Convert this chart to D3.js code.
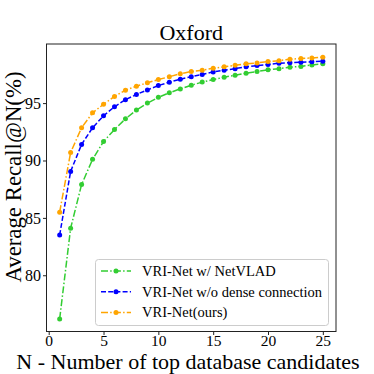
<!DOCTYPE html>
<html><head><meta charset="utf-8">
<script src="https://cdn.jsdelivr.net/npm/d3@7"></script>
<style>body{margin:0;background:#fff}svg{display:block}</style>
</head><body>
<svg id="c" width="374" height="374"></svg>
<script>
const title = "Oxford";
const xLabel = "N - Number of top database candidates";
const yLabel = "Average Recall@N(%)";
const N = [1,2,3,4,5,6,7,8,9,10,11,12,13,14,15,16,17,18,19,20,21,22,23,24,25];
const netvlad = [76.2,84.1,87.9,90.1,91.65,92.7,93.63,94.4,95.0,95.5,95.9,96.24,96.56,96.83,97.05,97.26,97.43,97.6,97.75,97.9,98.0,98.13,98.2,98.33,98.44];
const noDense = [83.5,89.05,91.4,92.85,93.9,94.68,95.3,95.75,96.15,96.53,96.82,97.08,97.3,97.5,97.72,97.87,98.0,98.16,98.27,98.36,98.48,98.52,98.56,98.6,98.65];
const ours = [85.5,90.7,92.85,94.15,94.9,95.58,96.13,96.47,96.77,97.05,97.3,97.55,97.75,97.87,98.04,98.16,98.3,98.42,98.5,98.62,98.7,98.83,98.88,98.94,99.0];
const seriesNames = ["VRI-Net w/ NetVLAD","VRI-Net w/o dense connection","VRI-Net(ours)"];
const xTicks = [0,5,10,15,20,25];
const yTicks = [80,85,90,95];

const series = [
  {name: seriesNames[0], values: netvlad, color: "#32CD32", dash: "7,2.2,1.5,2.2"},
  {name: seriesNames[1], values: noDense, color: "#0000FF", dash: "5,2.2"},
  {name: seriesNames[2], values: ours, color: "#FFA500", dash: "7,2.2,1.5,2.2"}
];

const svg = d3.select("#c");
const font = "'Liberation Serif','Times New Roman',serif";
const L = 46.5, R = 336, T = 44, B = 331.5;
const x = d3.scaleLinear().domain([-0.2, 26.2]).range([L, R]);
const y = d3.scaleLinear().domain([75.1, 100.15]).range([B, T]);

// lines
const line = d3.line().x((d,i)=>x(N[i])).y(d=>y(d));
const g = svg.append("g");
series.forEach(s => {
  g.append("path").attr("d", line(s.values)).attr("fill","none")
    .attr("stroke", s.color).attr("stroke-width",1.5).attr("stroke-dasharray", s.dash);
  g.selectAll(null).data(s.values).enter().append("circle")
    .attr("cx",(d,i)=>x(N[i])).attr("cy",d=>y(d)).attr("r",2.5).attr("fill",s.color);
});

// frame
svg.append("rect").attr("x",L).attr("y",T).attr("width",R-L).attr("height",B-T)
  .attr("fill","none").attr("stroke","#222").attr("stroke-width",1);

// axes
const xa = svg.append("g").attr("transform",`translate(0,${B})`)
  .call(d3.axisBottom(x).tickValues(xTicks).tickSize(3.5).tickPadding(1.5).tickFormat(d3.format("d")));
const ya = svg.append("g").attr("transform",`translate(${L},0)`)
  .call(d3.axisLeft(y).tickValues(yTicks).tickSize(3.5).tickPadding(2).tickFormat(d3.format("d")));
[xa,ya].forEach(a=>{
  a.select(".domain").remove();
  a.selectAll("line").attr("stroke","#222");
  a.selectAll("text").attr("font-family",font).attr("font-size",15.5).attr("fill","#000");
});
xa.selectAll("text").attr("dy", null).attr("y", 14.7);
ya.selectAll("text").attr("font-size",16);

// title and labels
svg.append("text").attr("x",(L+R)/2).attr("y",39.5).attr("text-anchor","middle")
  .attr("font-family",font).attr("font-size",22).text(title);
svg.append("text").attr("x",188).attr("y",369.3).attr("text-anchor","middle")
  .attr("font-family",font).attr("font-size",22).text(xLabel);
svg.append("text").attr("transform",`translate(20.5,177) rotate(-90)`).attr("text-anchor","middle")
  .attr("font-family",font).attr("font-size",22.8).text(yLabel);

// legend
const lg = svg.append("g");
lg.append("rect").attr("x",95.5).attr("y",259.5).attr("width",233).attr("height",66).attr("rx",3)
  .attr("fill","#fff").attr("fill-opacity",0.8).attr("stroke","#ccc").attr("stroke-width",1);
series.forEach((s,i)=>{
  const yy = 271 + i*20.7;
  lg.append("line").attr("x1",101).attr("x2",131).attr("y1",yy).attr("y2",yy)
    .attr("stroke",s.color).attr("stroke-width",1.5).attr("stroke-dasharray",s.dash);
  lg.append("circle").attr("cx",116).attr("cy",yy).attr("r",2.5).attr("fill",s.color);
  lg.append("text").attr("x",142).attr("y",yy+5).attr("font-family",font).attr("font-size",14.5)
    .text(s.name);
});
</script>
</body></html>
